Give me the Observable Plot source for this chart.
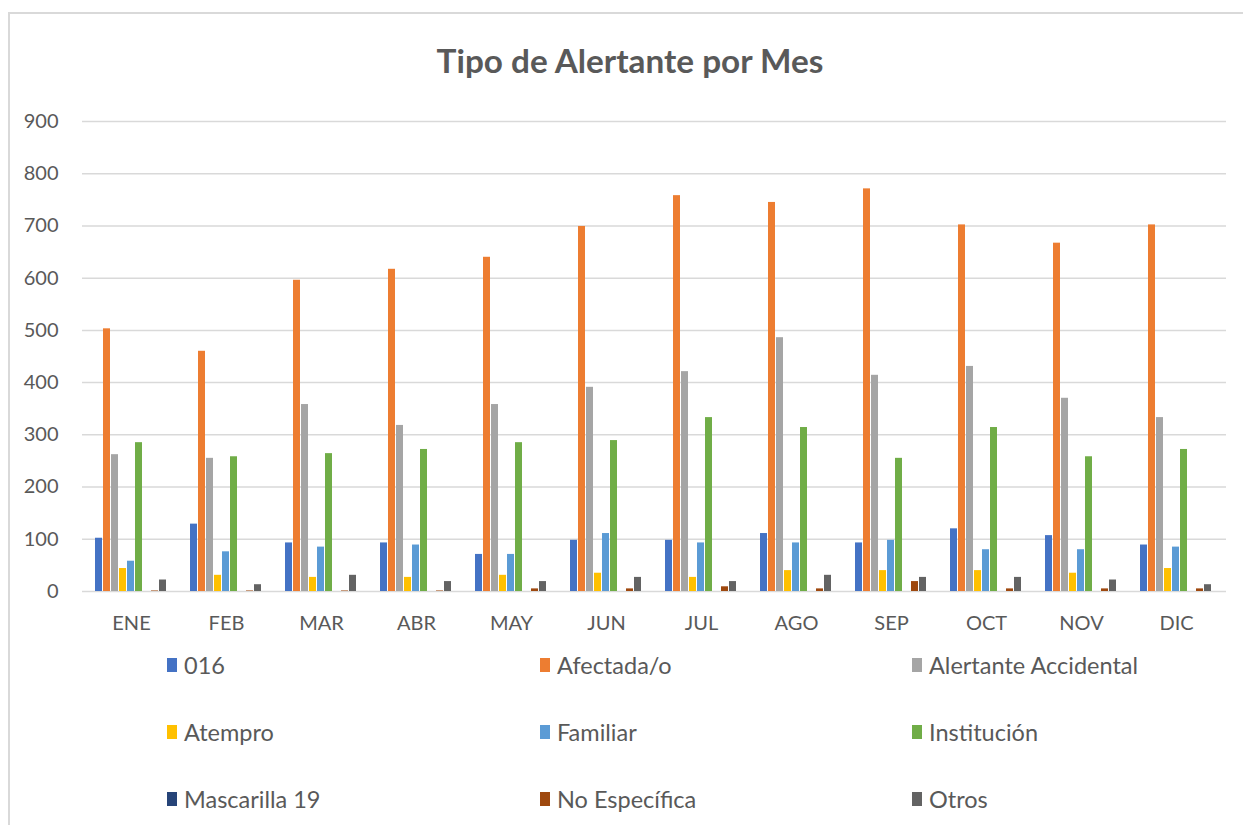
<!DOCTYPE html>
<html>
<head>
<meta charset="utf-8">
<script src="https://cdn.jsdelivr.net/npm/d3@7"></script>
<script src="https://cdn.jsdelivr.net/npm/@observablehq/plot@0.6"></script>
<style>
  html, body { margin: 0; padding: 0; background: #fff; }
  #wrap { position: relative; width: 1243px; height: 825px; overflow: hidden; font-family: Lato, "Open Sans", sans-serif; color: #595959; }
  #frame { position: absolute; left: 8px; top: 12px; width: 1240px; height: 820px; border-left: 2px solid #d9d9d9; border-top: 2px solid #d9d9d9; box-sizing: border-box; }
  #title { position: absolute; left: 0; width: 1260px; top: 40px; text-align: center; font-weight: 700; font-size: 33.3px; line-height: 40px; color: #595959; }
  .layer { position: absolute; left: 0; top: 100px; }
  .lg { position: absolute; display: flex; align-items: center; font-size: 23.5px; line-height: 26px; color: #595959; }
  .sw { width: 10px; height: 14px; margin-right: 7px; }
</style>
</head>
<body>
<div id="wrap">
  <div id="frame"></div>
  <div id="title">Tipo de Alertante por Mes</div>
  <div id="bg" class="layer"></div>
  <div id="fg" class="layer"></div>
  <div id="legend"></div>
</div>
<script>
const months = ["ENE","FEB","MAR","ABR","MAY","JUN","JUL","AGO","SEP","OCT","NOV","DIC"];
const series = ["016","Afectada/o","Alertante Accidental","Atempro","Familiar","Institución","Mascarilla 19","No Específica","Otros"];
const colors = ["#4472C4","#ED7D31","#A5A5A5","#FFC000","#5B9BD5","#70AD47","#264478","#9E480E","#636363"];
const yTicks = [0,100,200,300,400,500,600,700,800,900];

const v016        = [102,129, 93, 93, 71, 98, 98,111, 93,120,107, 89];
const vAfectada   = [503,460,596,617,640,699,758,745,771,702,667,702];
const vAlertante  = [262,255,358,318,358,391,421,486,414,431,370,333];
const vAtempro    = [ 44, 31, 27, 27, 31, 35, 27, 40, 40, 40, 35, 44];
const vFamiliar   = [ 58, 76, 85, 89, 71,111, 93, 93, 98, 80, 80, 85];
const vInstitucion= [285,258,264,272,285,289,333,314,255,314,258,272];
const vMascarilla = [  0,  0,  0,  0,  0,  0,  0,  0,  0,  0,  0,  0];
const vNoEsp      = [  1,  1,  1,  1,  5,  5,  9,  5, 19,  5,  5,  5];
const vOtros      = [ 22, 13, 31, 19, 19, 27, 19, 31, 27, 27, 22, 13];

const values = [v016, vAfectada, vAlertante, vAtempro, vFamiliar, vInstitucion, vMascarilla, vNoEsp, vOtros];
const table = months.flatMap((m, i) => series.map((s, j) => ({month: m, serie: s, value: values[j][i]})));

const bg = Plot.plot({
  width: 1243, height: 540,
  marginLeft: 82, marginRight: 17, marginTop: 21, marginBottom: 49,
  style: {fontFamily: "Lato, 'Open Sans', sans-serif", fontSize: "20px", color: "#595959", background: "transparent"},
  x: {axis: null, domain: [0, 1]},
  y: {domain: [0, 900], ticks: yTicks, tickSize: 0, tickPadding: 24, label: null, tickFormat: d => String(d)},
  marks: [
    Plot.ruleY(yTicks, {stroke: "#d9d9d9", strokeWidth: 1.5})
  ]
});
document.getElementById("bg").appendChild(bg);

const fg = Plot.plot({
  width: 1243, height: 540,
  marginLeft: 88, marginRight: 25, marginTop: 21, marginBottom: 49,
  style: {fontFamily: "Lato, 'Open Sans', sans-serif", fontSize: "20px", color: "#595959", background: "transparent"},
  facet: {data: table, x: "month"},
  fx: {domain: months, padding: 0.16, axis: "bottom", tickSize: 0, tickPadding: 24, label: null},
  x: {domain: series, axis: null, padding: 0.1},
  y: {domain: [0, 900], axis: null},
  color: {domain: series, range: colors},
  marks: [
    Plot.barY(table, {x: "serie", y: "value", fill: "serie"})
  ]
});
document.getElementById("fg").appendChild(fg);

// Legend
const legend = document.getElementById("legend");
const colX = [167, 540, 912];
const rowY = [665, 732, 799];
series.forEach((s, i) => {
  const item = document.createElement("div");
  item.className = "lg";
  item.style.left = colX[i % 3] + "px";
  item.style.top = (rowY[Math.floor(i / 3)] - 13) + "px";
  const sw = document.createElement("span");
  sw.className = "sw";
  sw.style.background = colors[i];
  const t = document.createElement("span");
  t.textContent = s;
  item.appendChild(sw);
  item.appendChild(t);
  legend.appendChild(item);
});
</script>
</body>
</html>
